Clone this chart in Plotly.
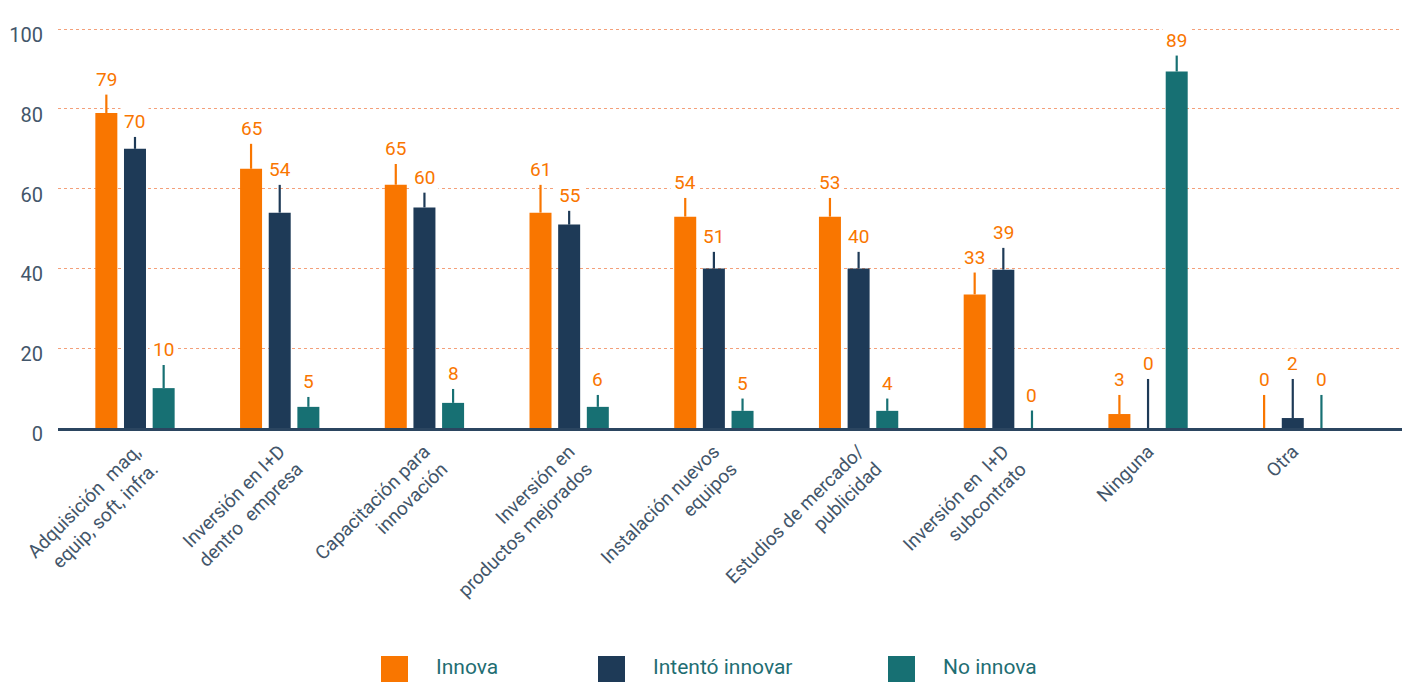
import numpy as np
import plotly.graph_objects as go

categories = [
    "Adquisición  maq,<br>equip, soft, infra.",
    "Inversión en I+D<br>dentro  empresa",
    "Capacitación para<br>innovación",
    "Inversión en<br>productos mejorados",
    "Instalación nuevos<br>equipos",
    "Estudios de mercado/<br>publicidad",
    "Inversión en  I+D<br>subcontrato",
    "Ninguna",
    "Otra",
]
series = ["Innova", "Intentó innovar", "No innova"]

# bar heights (%)
innova = [79, 65, 61, 54, 53, 53, 33.5, 3.5, 0]
intento = [70, 54, 55.3, 51, 40, 40, 39.7, 0, 2.5]
no_innova = [10, 5.3, 6.3, 5.3, 4.3, 4.3, 0, 89.4, 0]

# upper error extents
innova_err = [4.7, 6.3, 5.2, 7, 4.7, 4.7, 5.6, 4.8, 8.3]
intento_err = [3, 7, 3.8, 3.5, 4.2, 4.2, 5.5, 12.3, 9.8]
no_innova_err = [5.8, 2.5, 3.5, 3, 3.2, 3.2, 4.5, 4.1, 8.3]

# value labels as printed on the chart
innova_lbl = ["79", "65", "65", "61", "54", "53", "33", "3", "0"]
intento_lbl = ["70", "54", "60", "55", "51", "40", "39", "0", "2"]
no_innova_lbl = ["10", "5", "8", "6", "5", "4", "0", "89", "0"]

ORANGE = "#F97600"
NAVY = "#1E3A57"
TEAL = "#177073"
TXT = "#43566A"
FONT = "Roboto"

# page body has an 8px default margin, so the figure is a bit smaller
W, H = 1402, 674
ML, MR, MT, MB = 50, 0, 20, 254
PAD = 8

x_pos = np.arange(len(categories))
offsets = [-0.198, 0.0, 0.198]
bar_w = 0.152

fig = go.Figure()
data = [
    (innova, innova_err, innova_lbl, ORANGE),
    (intento, intento_err, intento_lbl, NAVY),
    (no_innova, no_innova_err, no_innova_lbl, TEAL),
]
annotations = []
for name, (vals, errs, lbls, col), off in zip(series, data, offsets):
    fig.add_trace(go.Bar(
        x=x_pos + off, y=vals, width=bar_w, name=name, marker=dict(color=col, line=dict(width=0)),
        error_y=dict(type="data", array=errs, arrayminus=[0] * len(errs), symmetric=False,
                     color=col, thickness=2.2, width=0),
        showlegend=False,
    ))
    for xi, v, e, t in zip(x_pos + off, vals, errs, lbls):
        annotations.append(dict(
            x=xi, y=v + e, text=t, showarrow=False, yanchor="middle", yshift=15,
            font=dict(family=FONT, size=19, color=ORANGE), bgcolor="white", borderpad=3,
        ))

# manual legend with large square swatches (screen pixel positions)
plot_w = W - ML - MR
plot_h = H - MT - MB


def px_x(p):
    return (p - PAD - ML) / plot_w


def px_y(p):
    return (H - MB - (p - PAD)) / plot_h


legend_sq = [381, 598, 888]
legend_txt = [434, 651, 941]
shapes = []
for name, col, sx, tx in zip(series, [ORANGE, NAVY, TEAL], legend_sq, legend_txt):
    shapes.append(dict(type="rect", xref="paper", yref="paper",
                       x0=px_x(sx), x1=px_x(sx + 27), y0=px_y(683), y1=px_y(656),
                       fillcolor=col, line=dict(width=0)))
    annotations.append(dict(xref="paper", yref="paper", x=px_x(tx), y=px_y(667), text=name,
                            showarrow=False, xanchor="left", yanchor="middle",
                            font=dict(family=FONT, size=21, color="#1F6E73")))

fig.update_layout(
    width=W, height=H,
    margin=dict(l=ML, r=MR, t=MT, b=MB),
    barmode="overlay",
    plot_bgcolor="white", paper_bgcolor="white",
    font=dict(family=FONT, color=TXT),
    annotations=annotations,
    shapes=shapes,
    showlegend=False,
)
fig.update_xaxes(
    range=[-0.532, 8.81], tickvals=x_pos, ticktext=categories, tickangle=-45,
    tickfont=dict(family=FONT, size=19, color=TXT),
    showgrid=False, showline=True, linecolor="#2B4560", linewidth=3,
    ticks="", zeroline=False, automargin=False, ticklabelstandoff=2,
)
fig.update_yaxes(
    range=[0, 100.3], tickvals=[0, 20, 40, 60, 80, 100],
    tickfont=dict(family=FONT, size=20, color=TXT),
    showgrid=True, gridcolor="#F4A07A", griddash="dot", gridwidth=1,
    zeroline=False, showline=False, ticks="", ticklabelstandoff=14, ticklabelshift=6,
    automargin=False,
)

fig.write_html("out.html")
